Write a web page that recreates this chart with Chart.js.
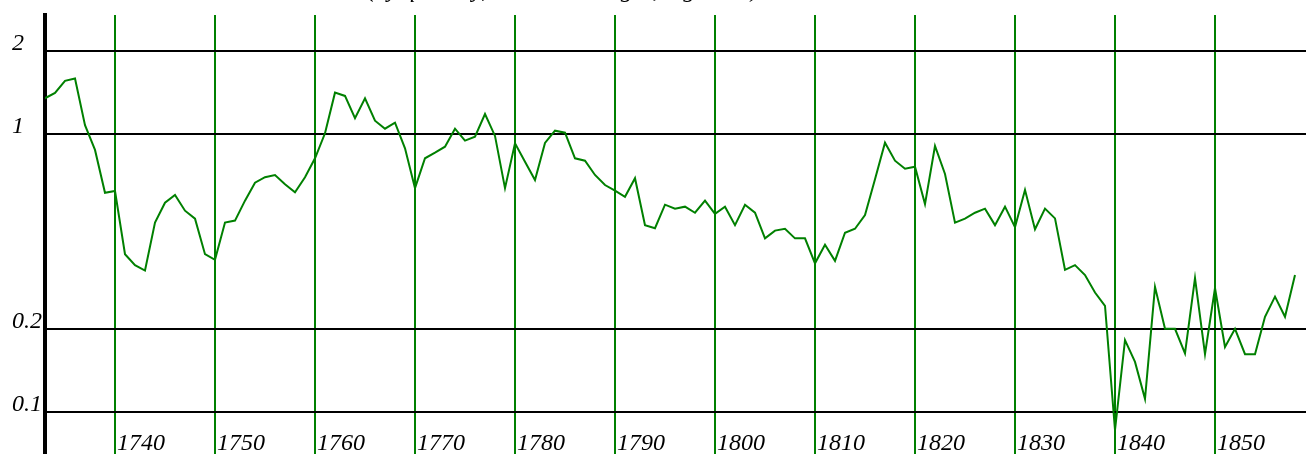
<!DOCTYPE html>
<html>
<head>
<meta charset="utf-8">
<script src="https://cdn.jsdelivr.net/npm/chart.js@4"></script>
<style>
    body { margin: 0; background: #fff; }
    canvas { display: block; }
</style>
</head>
<body>
<canvas id="tradeChart" width="1306" height="454"></canvas>
<script>
const years = [
    1733, 1734, 1735, 1736, 1737, 1738, 1739, 1740, 1741, 1742,
    1743, 1744, 1745, 1746, 1747, 1748, 1749, 1750, 1751, 1752,
    1753, 1754, 1755, 1756, 1757, 1758, 1759, 1760, 1761, 1762,
    1763, 1764, 1765, 1766, 1767, 1768, 1769, 1770, 1771, 1772,
    1773, 1774, 1775, 1776, 1777, 1778, 1779, 1780, 1781, 1782,
    1783, 1784, 1785, 1786, 1787, 1788, 1789, 1790, 1791, 1792,
    1793, 1794, 1795, 1796, 1797, 1798, 1799, 1800, 1801, 1802,
    1803, 1804, 1805, 1806, 1807, 1808, 1809, 1810, 1811, 1812,
    1813, 1814, 1815, 1816, 1817, 1818, 1819, 1820, 1821, 1822,
    1823, 1824, 1825, 1826, 1827, 1828, 1829, 1830, 1831, 1832,
    1833, 1834, 1835, 1836, 1837, 1838, 1839, 1840, 1841, 1842,
    1843, 1844, 1845, 1846, 1847, 1848, 1849, 1850, 1851, 1852,
    1853, 1854, 1855, 1856, 1857, 1858
];

const values = [
    1.35, 1.41, 1.56, 1.59, 1.08, 0.88, 0.617, 0.626, 0.371, 0.339,
    0.324, 0.482, 0.568, 0.606, 0.532, 0.498, 0.371, 0.354, 0.482, 0.49,
    0.578, 0.671, 0.702, 0.715, 0.662, 0.62, 0.702, 0.821, 1.01, 1.414,
    1.376, 1.144, 1.349, 1.121, 1.049, 1.103, 0.892, 0.641, 0.821, 0.86,
    0.904, 1.049, 0.95, 0.982, 1.185, 0.988, 0.641, 0.93, 0.798, 0.686,
    0.932, 1.032, 1.015, 0.821, 0.805, 0.715, 0.658, 0.628, 0.597, 0.696,
    0.472, 0.46, 0.559, 0.541, 0.55, 0.523, 0.578, 0.518, 0.55, 0.472,
    0.559, 0.523, 0.423, 0.451, 0.458, 0.423, 0.423, 0.344, 0.401, 0.351,
    0.443, 0.458, 0.513, 0.69, 0.934, 0.805, 0.753, 0.766, 0.562, 0.909,
    0.721, 0.482, 0.498, 0.523, 0.541, 0.472, 0.55, 0.464, 0.632, 0.456,
    0.541, 0.499, 0.326, 0.339, 0.312, 0.27, 0.242, 0.0865, 0.182, 0.152,
    0.112, 0.283, 0.2, 0.2, 0.163, 0.304, 0.162, 0.28, 0.172, 0.2,
    0.162, 0.162, 0.221, 0.261, 0.221, 0.312
];

const yearTicks = [1740, 1750, 1760, 1770, 1780, 1790, 1800, 1810, 1820, 1830, 1840, 1850];
const valueTicks = [0.1, 0.2, 1, 2];
const valueTickLabels = ['0.1', '0.2', '1', '2'];
const titleText = '(by quantity, annual averages, log scale)';

const labelFont = 'italic 24px "Liberation Serif", "DejaVu Serif", serif';

// labels sit inside the plot: years right of each green line, values on top of each black line
const labelPlugin = {
    id: 'labelPlugin',
    afterDraw(chart) {
        const ctx = chart.ctx;
        const xScale = chart.scales.x;
        const yScale = chart.scales.y;
        ctx.save();
        ctx.font = labelFont;
        ctx.fillStyle = '#000';
        ctx.textBaseline = 'alphabetic';

        ctx.textAlign = 'left';
        yearTicks.forEach(function (yr) {
            ctx.fillText(String(yr), xScale.getPixelForValue(yr) + 2, 450);
        });

        valueTicks.forEach(function (v, i) {
            ctx.fillText(valueTickLabels[i], 12, yScale.getPixelForValue(v) - 1);
        });

        // title sits above the canvas, only its descenders show
        ctx.textAlign = 'center';
        ctx.fillText(titleText, 563, -3);
        ctx.restore();
    }
};

function initChart() {
    const ctx = document.getElementById('tradeChart').getContext('2d');
    new Chart(ctx, {
        type: 'line',
        data: {
            datasets: [{
                data: years.map(function (yr, i) { return { x: yr, y: values[i] }; }),
                borderColor: '#008000',
                borderWidth: 2,
                pointRadius: 0,
                tension: 0,
                fill: false
            }]
        },
        options: {
            responsive: false,
            animation: false,
            layout: { padding: { top: 15, right: 0, bottom: 0, left: 0 } },
            plugins: {
                legend: { display: false },
                tooltip: { enabled: false }
            },
            scales: {
                x: {
                    type: 'linear',
                    min: 1733,
                    max: 1859.1,
                    afterBuildTicks: function (scale) {
                        scale.ticks = yearTicks.map(function (v) { return { value: v }; });
                    },
                    afterFit: function (scale) { scale.height = 0; },
                    ticks: { display: false },
                    grid: { color: '#008000', lineWidth: 2, drawTicks: false },
                    border: { display: false }
                },
                y: {
                    type: 'logarithmic',
                    min: 0.0709,
                    max: 2.69,
                    afterBuildTicks: function (scale) {
                        scale.ticks = valueTicks.map(function (v) { return { value: v }; });
                    },
                    afterFit: function (scale) { scale.width = 45; },
                    ticks: { display: false },
                    grid: { color: '#000', lineWidth: 2, drawTicks: false },
                    border: { display: true, color: '#000', width: 4 }
                }
            }
        },
        plugins: [labelPlugin]
    });
}

document.addEventListener('DOMContentLoaded', function () {
    initChart();
});
</script>
</body>
</html>
